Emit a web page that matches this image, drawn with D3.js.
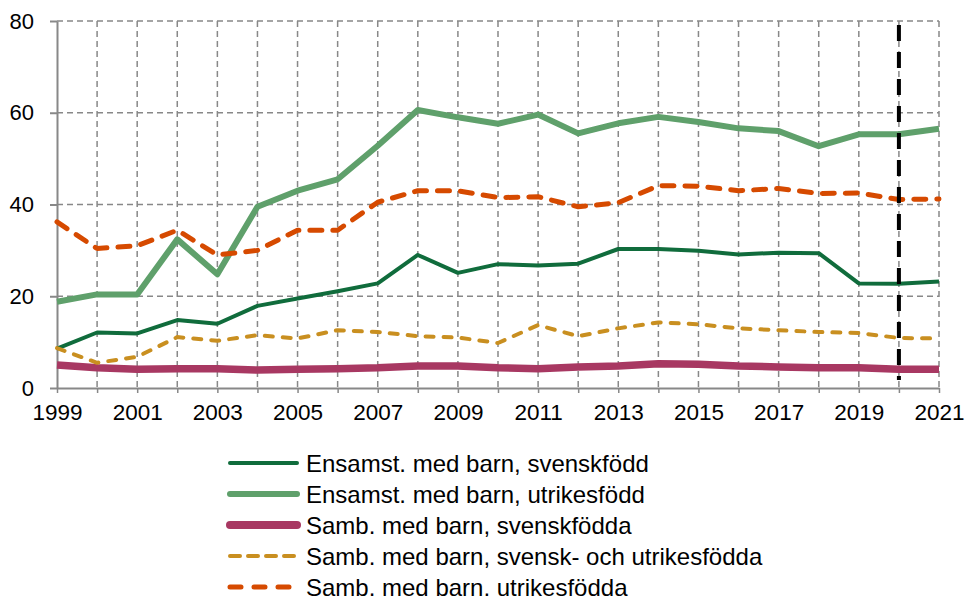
<!DOCTYPE html>
<html>
<head>
<meta charset="utf-8">
<script src="https://cdn.jsdelivr.net/npm/d3@7"></script>
<style>
  body { margin: 0; background: #fff; }
  svg { display: block; font-family: Arial, "Liberation Sans", sans-serif; }
</style>
</head>
<body>
<div id="chart"></div>
<script>
// data
const years = d3.range(1999, 2022);
const xTickLabels = [1999, 2001, 2003, 2005, 2007, 2009, 2011, 2013, 2015, 2017, 2019, 2021];
const yTickLabels = [0, 20, 40, 60, 80];
const ensamSvensk = [8.6, 12.1, 11.9, 14.8, 14.0, 17.9, 19.5, 21.1, 22.8, 29.0, 25.1, 27.0, 26.7, 27.1, 30.3, 30.3, 29.9, 29.1, 29.5, 29.4, 22.8, 22.7, 23.2];
const ensamUtrikes = [18.8, 20.4, 20.4, 32.4, 24.8, 39.5, 43.0, 45.5, 52.8, 60.6, 59.0, 57.6, 59.6, 55.5, 57.7, 59.1, 58.0, 56.6, 56.0, 52.7, 55.3, 55.3, 56.5];
const sambSvensk = [5.0, 4.4, 4.1, 4.2, 4.2, 3.9, 4.1, 4.2, 4.4, 4.8, 4.8, 4.4, 4.2, 4.6, 4.8, 5.3, 5.2, 4.8, 4.6, 4.4, 4.4, 4.1, 4.1];
const sambBlandad = [8.7, 5.5, 6.8, 11.1, 10.3, 11.5, 10.8, 12.6, 12.2, 11.3, 11.0, 9.8, 13.7, 11.3, 13.0, 14.3, 13.9, 13.0, 12.6, 12.2, 12.0, 10.9, 10.8];
const sambUtrikes = [36.2, 30.4, 31.0, 34.4, 29.0, 30.0, 34.4, 34.4, 40.5, 43.0, 43.0, 41.5, 41.7, 39.5, 40.4, 44.1, 44.0, 43.0, 43.5, 42.4, 42.5, 41.1, 41.2];
const seriesNames = [
  "Ensamst. med barn, svenskfödd",
  "Ensamst. med barn, utrikesfödd",
  "Samb. med barn, svenskfödda",
  "Samb. med barn, svensk- och utrikesfödda",
  "Samb. med barn, utrikesfödda"
];
const markerYear = 2020;

const width = 965, height = 596;
const margin = { top: 21, right: 26, bottom: 208, left: 57 };

// line styles per series (draw order = legend order)
const styles = [
  { color: "#106c3c", width: 4, dash: null, legendDash: null },
  { color: "#5fa06b", width: 6, dash: null, legendDash: null },
  { color: "#a83862", width: 7.5, dash: null, legendDash: null },
  { color: "#c98f20", width: 4, dash: "8,10", legendDash: "10,8" },
  { color: "#d64a00", width: 5, dash: "12,11", legendDash: "11,13" }
];
const seriesData = [ensamSvensk, ensamUtrikes, sambSvensk, sambBlandad, sambUtrikes];

const svg = d3.select("#chart").append("svg")
  .attr("width", width)
  .attr("height", height);

const x = d3.scaleLinear()
  .domain([1999, 2021])
  .range([margin.left, width - margin.right]);
const y = d3.scaleLinear()
  .domain([0, 80])
  .range([height - margin.bottom, margin.top]);

//grid
svg.append("g")
  .selectAll("line.hgrid")
  .data(yTickLabels.filter(d => d > 0))
  .enter()
  .append("line")
  .attr("x1", x(1999)).attr("x2", x(2021))
  .attr("y1", d => y(d)).attr("y2", d => y(d))
  .attr("stroke", "#888").attr("stroke-width", 1.5)
  .attr("stroke-dasharray", "6,4");

svg.append("g")
  .selectAll("line.vgrid")
  .data(years.slice(1))
  .enter()
  .append("line")
  .attr("x1", d => x(d)).attr("x2", d => x(d))
  .attr("y1", y(80)).attr("y2", y(0))
  .attr("stroke", "#888").attr("stroke-width", 1.5)
  .attr("stroke-dasharray", "6,4");

// y axis
const yAxis = d3.axisLeft(y).tickValues(yTickLabels).tickSize(7).tickSizeOuter(0).tickPadding(16);
const gy = svg.append("g")
  .attr("transform", `translate(${x(1999)},0)`)
  .call(yAxis);
gy.select(".domain").attr("stroke", "#888").attr("stroke-width", 2);
gy.selectAll(".tick line").attr("stroke", "#888").attr("stroke-width", 2);
gy.selectAll(".tick text").attr("font-size", 22).attr("fill", "#000")
  .attr("font-family", "Arial, 'Liberation Sans', sans-serif");

// x axis
const xAxis = d3.axisBottom(x).tickValues(years).tickSize(5).tickSizeOuter(0)
  .tickFormat(d => xTickLabels.includes(d) ? d : "");
const gx = svg.append("g")
  .attr("transform", `translate(0,${y(0)})`)
  .call(xAxis);
gx.select(".domain").attr("stroke", "#888").attr("stroke-width", 2);
gx.selectAll(".tick line").attr("stroke", "#888").attr("stroke-width", 1.5);
gx.selectAll(".tick text").attr("font-size", 22.5).attr("fill", "#000").attr("dy", "1.05em")
  .attr("font-family", "Arial, 'Liberation Sans', sans-serif");

// lines
const line = d3.line()
  .x((d, i) => x(years[i]))
  .y(d => y(d));

seriesData.forEach((vals, i) => {
  const s = styles[i];
  svg.append("path")
    .datum(vals)
    .attr("fill", "none")
    .attr("stroke", s.color)
    .attr("stroke-width", s.width)
    .attr("stroke-linejoin", "round")
    .attr("stroke-linecap", s.dash ? "round" : "butt")
    .attr("stroke-dasharray", s.dash)
    .attr("d", line);
});

// marker line at 2020
svg.append("line")
  .attr("x1", x(markerYear)).attr("x2", x(markerYear))
  .attr("y1", y(80) + 4).attr("y2", y(0) - 8)
  .attr("stroke", "#000").attr("stroke-width", 4)
  .attr("stroke-dasharray", "16,11");

// legend
const legend = svg.append("g").attr("transform", "translate(230,463)");
const rows = legend.selectAll("g")
  .data(seriesNames)
  .enter()
  .append("g")
  .attr("transform", (d, i) => `translate(0,${i * 31})`);

rows.append("line")
  .attr("x1", 0).attr("x2", 67)
  .attr("stroke", (d, i) => styles[i].color)
  .attr("stroke-width", (d, i) => i == 2 ? 8 : styles[i].width)
  .attr("stroke-linecap", "round")
  .attr("stroke-dasharray", (d, i) => styles[i].legendDash);

rows.append("text")
  .attr("x", 76)
  .attr("dy", "0.36em")
  .attr("font-size", 24)
  .text(d => d);
</script>
</body>
</html>
